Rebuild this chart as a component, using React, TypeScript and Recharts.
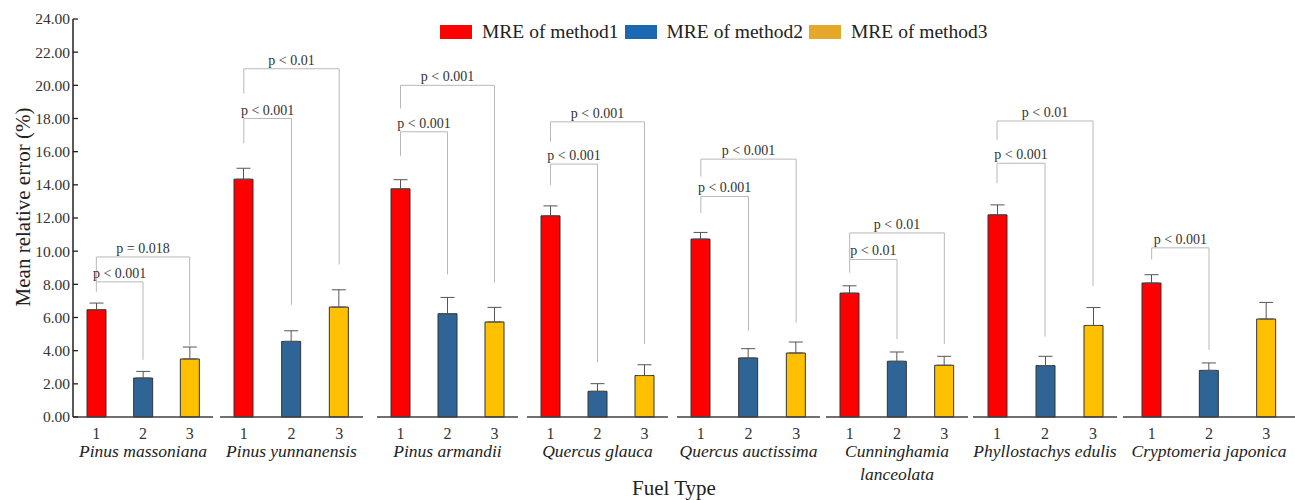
import { BarChart, Bar, Cell, XAxis, YAxis, ErrorBar, ReferenceLine } from "recharts";

// ─── Data ────────────────────────────────────────────────────────────────────

const SPECIES = [
  "Pinus massoniana", "Pinus yunnanensis", "Pinus armandii", "Quercus glauca",
  "Quercus auctissima", "Cunninghamia\nlanceolata", "Phyllostachys edulis", "Cryptomeria japonica",
];
const METHOD_TICKS = ["1", "2", "3"];
const LEGEND_NAMES = ["MRE of method1", "MRE of method2", "MRE of method3"];

const MRE_METHOD1 = [6.47, 14.34, 13.76, 12.13, 10.73, 7.47, 12.19, 8.08];
const MRE_METHOD2 = [2.35, 4.56, 6.23, 1.55, 3.56, 3.36, 3.10, 2.81];
const MRE_METHOD3 = [3.50, 6.63, 5.73, 2.50, 3.86, 3.12, 5.52, 5.91];
const SE_METHOD1 = [0.40, 0.66, 0.55, 0.60, 0.40, 0.44, 0.60, 0.50];
const SE_METHOD2 = [0.40, 0.64, 0.98, 0.46, 0.56, 0.56, 0.56, 0.45];
const SE_METHOD3 = [0.72, 1.04, 0.88, 0.65, 0.66, 0.54, 1.08, 1.00];

const Y_TICKS = [0, 2, 4, 6, 8, 10, 12, 14, 16, 18, 20, 22, 24];

// significance brackets: [label, bracket height, leg end at method 1, leg end at other method]
type Sig = [string, number, number, number] | null;
const SIG_1VS2: Sig[] = [
  ["p < 0.001", 8.15, 7.55, 3.45],
  ["p < 0.001", 18.0, 16.5, 6.77],
  ["p < 0.001", 17.2, 15.75, 8.6],
  ["p < 0.001", 15.25, 14.0, 3.3],
  ["p < 0.001", 13.3, 12.3, 5.2],
  ["p < 0.01", 9.5, 8.7, 4.7],
  ["p < 0.001", 15.3, 14.1, 4.85],
  ["p < 0.001", 10.2, 9.5, 4.05],
];
const SIG_1VS3: Sig[] = [
  ["p = 0.018", 9.65, 8.15, 4.3],
  ["p < 0.01", 21.0, 19.5, 9.2],
  ["p < 0.001", 20.0, 18.6, 8.1],
  ["p < 0.001", 17.8, 16.6, 4.4],
  ["p < 0.001", 15.55, 14.5, 5.7],
  ["p < 0.01", 11.1, 9.5, 4.4],
  ["p < 0.01", 17.85, 16.7, 7.9],
  null,
];

// ─── Layout / style ──────────────────────────────────────────────────────────

const PANEL_LEFT = [73, 220, 377, 527, 677, 826, 973, 1123];
const PANEL_WIDTH = [140, 143, 141, 141, 143, 142, 144, 172];
const Y_AXIS_W = 73;

const BAR_COLORS = ["#ff0000", "#2f6496", "#ffc000"];
const LEGEND_COLORS = ["#ff0000", "#1b67b0", "#e5a82a"];
const FONT = '"Liberation Serif", "Times New Roman", serif';
const BRACKET = "#b8b8b8";

function YTick(props: any) {
  const { x, y, payload } = props;
  return (
    <g>
      <line x1={x + 3} x2={x + 8} y1={y} y2={y} stroke="#222" strokeWidth={1.3} />
      <text x={x} y={y} dy="0.35em" textAnchor="end" fontSize={15.5} fill="#333" fontFamily={FONT}>
        {Number(payload.value).toFixed(2)}
      </text>
    </g>
  );
}

function XTick(props: any) {
  const { x, y, payload, species } = props;
  const lines = String(species).split("\n");
  return (
    <g>
      <text x={x} y={y + 22} textAnchor="middle" fontSize={16} fill="#333" fontFamily={FONT}>
        {payload.value}
      </text>
      {payload.index === 1 && lines.map((l: string, i: number) => (
        <text key={i} x={x} y={y + 40 + i * 23} textAnchor="middle" fontSize={17.5} fontStyle="italic" fill="#222" fontFamily={FONT}>
          {l}
        </text>
      ))}
    </g>
  );
}

function bracketLines(sig: Sig, to: string, key: string) {
  if (!sig) return [];
  const [label, top, legA, legB] = sig;
  const common = { stroke: BRACKET, strokeWidth: 1, ifOverflow: "visible" as const };
  return [
    <ReferenceLine key={key + "a"} {...common} segment={[{ x: "1", y: legA }, { x: "1", y: top }]} />,
    <ReferenceLine
      key={key + "b"} {...common}
      segment={[{ x: "1", y: top }, { x: to, y: top }]}
      label={{ value: label, position: "top", offset: 4, fontSize: 14, fill: "#333", fontFamily: FONT }}
    />,
    <ReferenceLine key={key + "c"} {...common} segment={[{ x: to, y: top }, { x: to, y: legB }]} />,
  ];
}

function Panel({ g }: { g: number }) {
  const values = [MRE_METHOD1[g], MRE_METHOD2[g], MRE_METHOD3[g]];
  const errs = [SE_METHOD1[g], SE_METHOD2[g], SE_METHOD3[g]];
  const data = METHOD_TICKS.map((t, i) => ({ method: t, value: values[i], err: [0, errs[i]] }));
  const first = g === 0;
  const width = PANEL_WIDTH[g] + (first ? Y_AXIS_W : 0);
  return (
    <div style={{ position: "absolute", top: 0, left: first ? 0 : PANEL_LEFT[g] }}>
      <BarChart width={width} height={500} data={data} barSize={19} margin={{ top: 19, right: 0, bottom: 0, left: 0 }}>
        <XAxis
          dataKey="method" height={83} interval={0} tickLine={false} tickSize={0} tickMargin={0}
          axisLine={{ stroke: "#404040", strokeWidth: 1.5 }}
          tick={(p: any) => <XTick {...p} species={SPECIES[g]} />}
        />
        <YAxis
          hide={!first} width={Y_AXIS_W} domain={[0, 24]} ticks={Y_TICKS} interval={0}
          tickLine={false} tickSize={3} tickMargin={0}
          axisLine={{ stroke: "#222", strokeWidth: 1.5 }}
          tick={(p: any) => <YTick {...p} />}
        />
        <Bar dataKey="value" isAnimationActive={false} stroke="#333" strokeWidth={1}>
          {data.map((_, i) => <Cell key={i} fill={BAR_COLORS[i]} />)}
          <ErrorBar dataKey="err" width={7} stroke="#555" strokeWidth={1} direction="y" />
        </Bar>
        {bracketLines(SIG_1VS3[g], "3", "s13")}
        {bracketLines(SIG_1VS2[g], "2", "s12")}
      </BarChart>
    </div>
  );
}

export default function App() {
  return (
    <div style={{ position: "absolute", left: 0, top: 0, width: 1295, height: 500, background: "#fff", fontFamily: FONT }}>
      <style>{`.recharts-surface { overflow: visible; } .recharts-wrapper { overflow: visible; }`}</style>
      {SPECIES.map((_, g) => <Panel key={g} g={g} />)}

      <div style={{ position: "absolute", left: 440, top: 18, height: 28, display: "flex", alignItems: "center" }}>
        {LEGEND_NAMES.map((name, i) => (
          <div key={name} style={{ display: "flex", alignItems: "center", marginRight: 6 }}>
            <div style={{ width: 32, height: 14, background: LEGEND_COLORS[i], marginRight: 10 }} />
            <span style={{ fontSize: 19.5, color: "#222", whiteSpace: "nowrap" }}>{name}</span>
          </div>
        ))}
      </div>

      <svg width={1295} height={500} style={{ position: "absolute", left: 0, top: 0, pointerEvents: "none" }}>
        <text x={23} y={207} transform="rotate(-90 23 207)" textAnchor="middle" dominantBaseline="central" fontSize={21} fill="#222" fontFamily={FONT}>
          Mean relative error (%)
        </text>
        <text x={674} y={495} textAnchor="middle" fontSize={21} fill="#222" fontFamily={FONT}>
          Fuel Type
        </text>
      </svg>
    </div>
  );
}
